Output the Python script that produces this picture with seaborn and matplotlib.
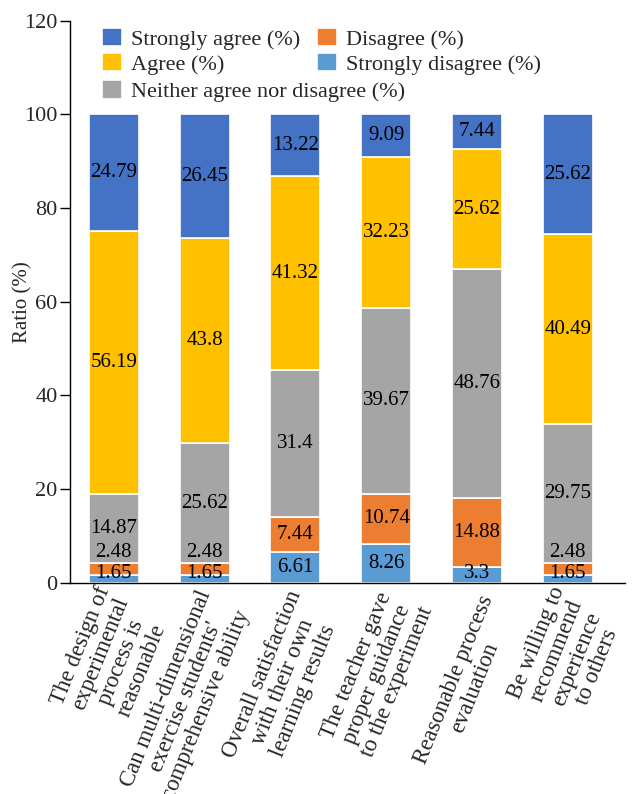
import matplotlib
matplotlib.use("Agg")
import matplotlib.pyplot as plt
import matplotlib.transforms as mtransforms
import seaborn as sns
import numpy as np
import pandas as pd

sns.set_theme(style="white")
plt.rcParams["font.family"] = ["Liberation Serif", "DejaVu Serif"]

categories = [
    "The design of\nexperimental\nprocess is\nreasonable",
    "Can multi-dimensional\nexercise students'\ncomprehensive ability",
    "Overall satisfaction\nwith their own\nlearning results",
    "The teacher gave\nproper guidance\nto the experiment",
    "Reasonable process\nevaluation",
    "Be willing to\nrecommend\nexperience\nto others",
]
strongly_disagree = [1.65, 1.65, 6.61, 8.26, 3.3, 1.65]
disagree = [2.48, 2.48, 7.44, 10.74, 14.88, 2.48]
neither = [14.87, 25.62, 31.4, 39.67, 48.76, 29.75]
agree = [56.19, 43.8, 41.32, 32.23, 25.62, 40.49]
strongly_agree = [24.79, 26.45, 13.22, 9.09, 7.44, 25.62]

series = [
    ("Strongly disagree (%)", strongly_disagree, "#5B9BD5"),
    ("Disagree (%)", disagree, "#ED7D31"),
    ("Neither agree nor disagree (%)", neither, "#A5A5A5"),
    ("Agree (%)", agree, "#FFC000"),
    ("Strongly agree (%)", strongly_agree, "#4472C4"),
]

fig = plt.figure(figsize=(6.32, 7.94), dpi=100)
ax = fig.add_axes([0.111, 0.266, 0.878, 0.708])

n = len(categories)
bottom = np.zeros(n)
last_label_y = np.full(n, -10.0)
handles = {}
for name, vals, color in series:
    df = pd.DataFrame({"cat": categories, "val": vals})
    sns.barplot(data=df, x="cat", y="val", color=color, saturation=1,
                width=0.55, bottom=bottom, edgecolor="white", linewidth=1.2,
                ax=ax, label=name)
    handles[name] = ax.containers[-1]
    for i, v in enumerate(vals):
        # keep value labels of thin segments from colliding
        y = max(bottom[i] + v / 2, last_label_y[i] + 4.6, 1.9)
        last_label_y[i] = y
        ax.text(i, y, f"{v:g}", ha="center", va="center",
                fontsize=15, color="black")
    bottom = bottom + np.array(vals)

ax.set_xlim(-0.48, 5.63)
ax.set_ylim(0, 120)
ax.set_yticks(np.arange(0, 121, 20))
ax.set_ylabel("Ratio (%)", fontsize=15)
ax.yaxis.set_label_coords(-0.067, 0.5)
ax.set_xlabel("")
ax.tick_params(axis="y", labelsize=16, length=7, width=1, direction="out",
               left=True, pad=2, color="black")
ax.tick_params(axis="x", labelsize=16.5, length=0, pad=0)
offset = mtransforms.ScaledTranslation(21 / 72 * 0.72, -17 / 100,
                                       fig.dpi_scale_trans)
for lab in ax.get_xticklabels():
    lab.set_rotation(68)
    lab.set_ha("right")
    lab.set_va("center")
    lab.set_multialignment("center")
    lab.set_rotation_mode("anchor")
    lab.set_linespacing(1.05)
    lab.set_transform(lab.get_transform() + offset)
for s in ["top", "right"]:
    ax.spines[s].set_visible(False)
for s in ["left", "bottom"]:
    ax.spines[s].set_color("black")
    ax.spines[s].set_linewidth(1.0)

leg_kw = dict(frameon=False, fontsize=16, handlelength=0.9, handleheight=0.9,
              handletextpad=0.4, borderpad=0, borderaxespad=0,
              labelspacing=0.14, loc="upper left")
top_names = ["Strongly agree (%)", "Agree (%)", "Disagree (%)",
             "Strongly disagree (%)"]
leg1 = ax.legend([handles[k] for k in top_names], top_names, ncol=2,
                 columnspacing=0.75, bbox_to_anchor=(0.058, 0.987), **leg_kw)
ax.add_artist(leg1)
mid = "Neither agree nor disagree (%)"
ax.legend([handles[mid]], [mid], bbox_to_anchor=(0.058, 0.894), **leg_kw)

fig.savefig("out.png", dpi=100)
